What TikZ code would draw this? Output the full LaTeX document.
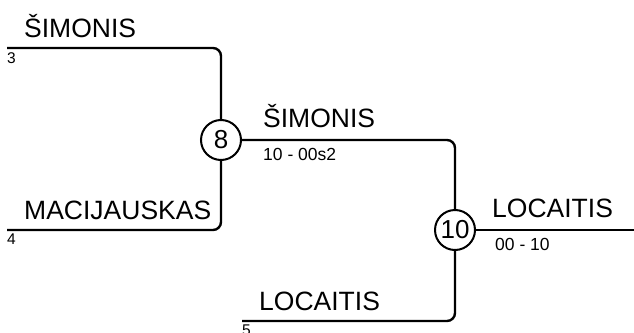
\documentclass[tikz,border=0pt]{standalone}
\usepackage{fontspec}
\setmainfont{Liberation Sans}
\begin{document}
\begin{tikzpicture}[x=1pt, y=-1pt,
		wire/.style={line width=2.4pt, rounded corners=8pt},
		match/.style={circle, draw, line width=2pt, fill=white, inner sep=0pt, minimum size=40pt, font=\fontsize{26}{30}\selectfont},
		player/.style={anchor=base west, inner sep=0pt, font=\fontsize{26.5}{30}\selectfont},
		score/.style={anchor=base west, inner sep=0pt, font=\fontsize{17.5}{20}\selectfont},
		seed/.style={anchor=north west, inner sep=0pt, font=\fontsize{15.5}{18}\selectfont}]
			\useasboundingbox (0,0) rectangle (634,332);
			% first round entries
			\foreach \x/\y/\who/\s in {7/48/ŠIMONIS/3, 7/230/MACIJAUSKAS/4, 242/321/LOCAITIS/5} {
				\coordinate (e\s) at (\x,\y);
				\node[player] (n\s) at (\x+17,\y-11) {\who};
				\node[seed] (s\s) at (\x,\y+4) {\s};
			};
			% matches
			\node[match] (m8) at (221,140) {8};
			\node[match] (m10) at (455,230) {10};
			\coordinate (out) at (634,230);
			
			\draw[wire] (e3) -| (m8);
			\draw[wire] (e4) -| (m8);
			\draw[wire] (m8) -| (m10);
			\draw[wire] (e5) -| (m10);
			\draw[wire] (m10) -- (out);
			
			% winners and scores
			\node[player] (w8) at (263,127) {ŠIMONIS};
			\node[score] (r8) at (263,160) {10 - 00s2};
			\node[player] (w10) at (492,217) {LOCAITIS};
			\node[score] (r10) at (495,250) {00 - 10};
		\end{tikzpicture}
\end{document}
